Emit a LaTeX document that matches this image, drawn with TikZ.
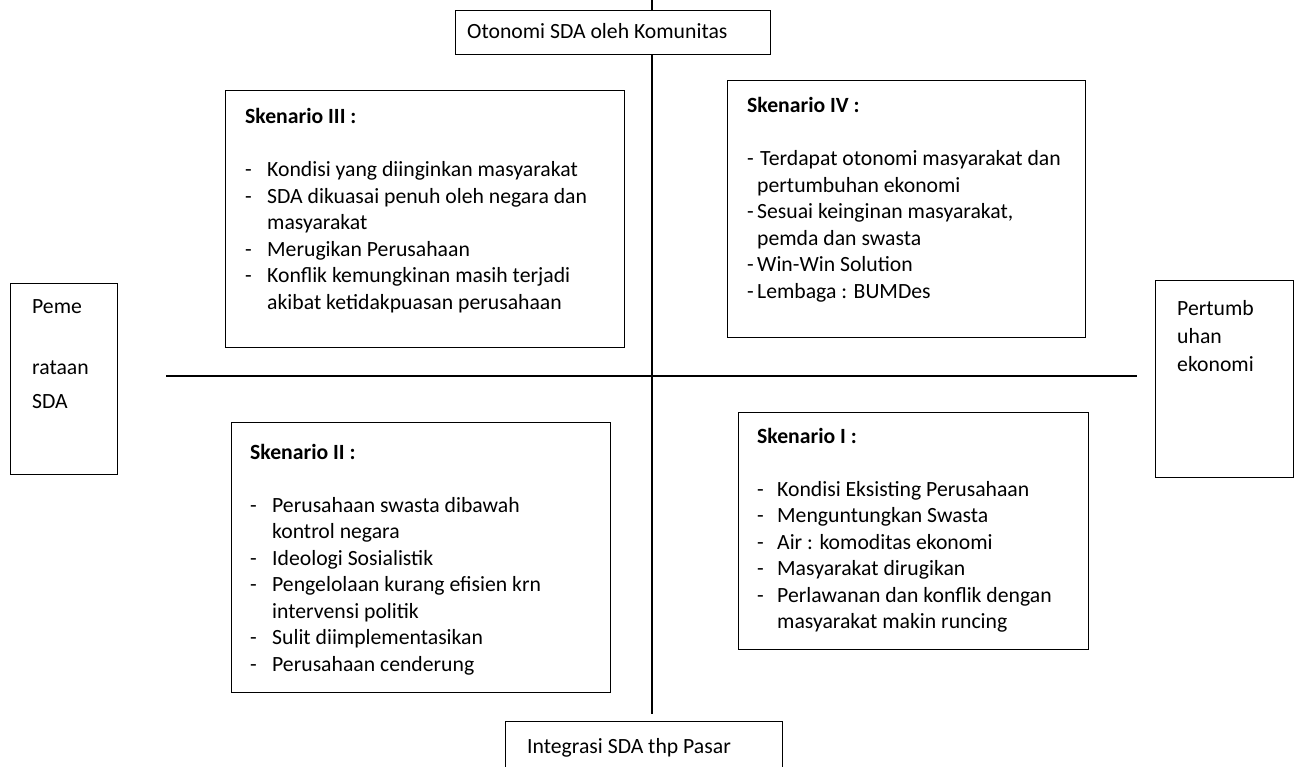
\documentclass[tikz,border=0pt]{standalone}
\usepackage{fontspec}
\setmainfont{Carlito}
\newcommand{\dl}[2]{\makebox[#1][l]{-}#2}
\begin{document}
\begin{tikzpicture}[x=1pt,y=-1pt,
  every node/.style={font=\fontsize{21.7pt}{26.5pt}\selectfont, inner sep=0pt},
  frame/.style={draw, line width=1.4pt, fill=white, anchor=north west},
  axisline/.style={line width=1.3pt},
  txt/.style={anchor=base west, inner sep=0pt}]
\clip (0,0) rectangle (1298,767);
\fill[white] (0,0) rectangle (1298,767);
% axes
\coordinate (vt) at (652,0);
\coordinate (vb) at (652,714);
\coordinate (hl) at (166,376);
\coordinate (hr) at (1137,376);
\draw[axisline] (vt) -- (vb);
\draw[axisline] (hl) -- (hr);
% top and bottom labels
\node[frame, minimum width=315pt, minimum height=44pt] (oto) at (455,10) {};
\node[txt] (otot) at (467,39) {Otonomi SDA oleh Komunitas};
\node[frame, minimum width=277pt, minimum height=80pt] (intg) at (505,721) {};
\node[txt] (intgt) at (527,753) {Integrasi SDA thp Pasar};
% left and right labels
\node[frame, minimum width=107pt, minimum height=191pt] (pem) at (10,283) {};
\node[txt] (pem1) at (32,313) {Peme};
\node[txt] (pem2) at (32,374) {rataan};
\node[txt] (pem3) at (32,408) {SDA};
\node[frame, minimum width=138pt, minimum height=197pt] (per) at (1155,280) {};
\node[txt] (per1) at (1177,316) {Pertumb};
\node[txt] (per2) at (1177,343) {uhan};
\node[txt] (per3) at (1177,371) {ekonomi};
% Skenario III
\node[frame, minimum width=399pt, minimum height=257pt] (s3) at (225,90) {};
\node[txt] (s3t) at (245,124) {\parbox[t]{370pt}{%
\textbf{Skenario III :}\\
\mbox{}\\
\dl{22pt}{Kondisi yang diinginkan masyarakat}\\
\dl{22pt}{SDA dikuasai penuh oleh negara dan}\\
\hspace*{22pt}masyarakat\\
\dl{22pt}{Merugikan Perusahaan}\\
\dl{22pt}{Konflik kemungkinan masih terjadi}\\
\hspace*{22pt}akibat ketidakpuasan perusahaan}};
% Skenario IV
\node[frame, minimum width=358pt, minimum height=257pt] (s4) at (727,80) {};
\node[txt] (s4t) at (747,113) {\parbox[t]{330pt}{%
\textbf{Skenario IV :}\\
\mbox{}\\
\dl{13pt}{Terdapat otonomi masyarakat dan}\\
\hspace*{10pt}pertumbuhan ekonomi\\
\dl{10pt}{Sesuai keinginan masyarakat,}\\
\hspace*{10pt}pemda dan swasta\\
\dl{10pt}{Win-Win Solution}\\
\dl{10pt}{Lembaga : BUMDes}}};
% Skenario II
\node[frame, minimum width=379pt, minimum height=270pt] (s2) at (231,422) {};
\node[txt] (s2t) at (250,459) {\parbox[t]{350pt}{%
\textbf{Skenario II :}\\
\mbox{}\\
\dl{22pt}{Perusahaan swasta dibawah}\\
\hspace*{22pt}kontrol negara\\
\dl{22pt}{Ideologi Sosialistik}\\
\dl{22pt}{Pengelolaan kurang efisien krn}\\
\hspace*{22pt}intervensi politik\\
\dl{22pt}{Sulit diimplementasikan}\\
\dl{22pt}{Perusahaan cenderung}}};
% Skenario I
\node[frame, minimum width=350pt, minimum height=237pt] (s1) at (738,412) {};
\node[txt] (s1t) at (757,443) {\parbox[t]{320pt}{%
\textbf{Skenario I :}\\
\mbox{}\\
\dl{20pt}{Kondisi Eksisting Perusahaan}\\
\dl{20pt}{Menguntungkan Swasta}\\
\dl{20pt}{Air : komoditas ekonomi}\\
\dl{20pt}{Masyarakat dirugikan}\\
\dl{20pt}{Perlawanan dan konflik dengan}\\
\hspace*{20pt}masyarakat makin runcing}};
\end{tikzpicture}
\end{document}
